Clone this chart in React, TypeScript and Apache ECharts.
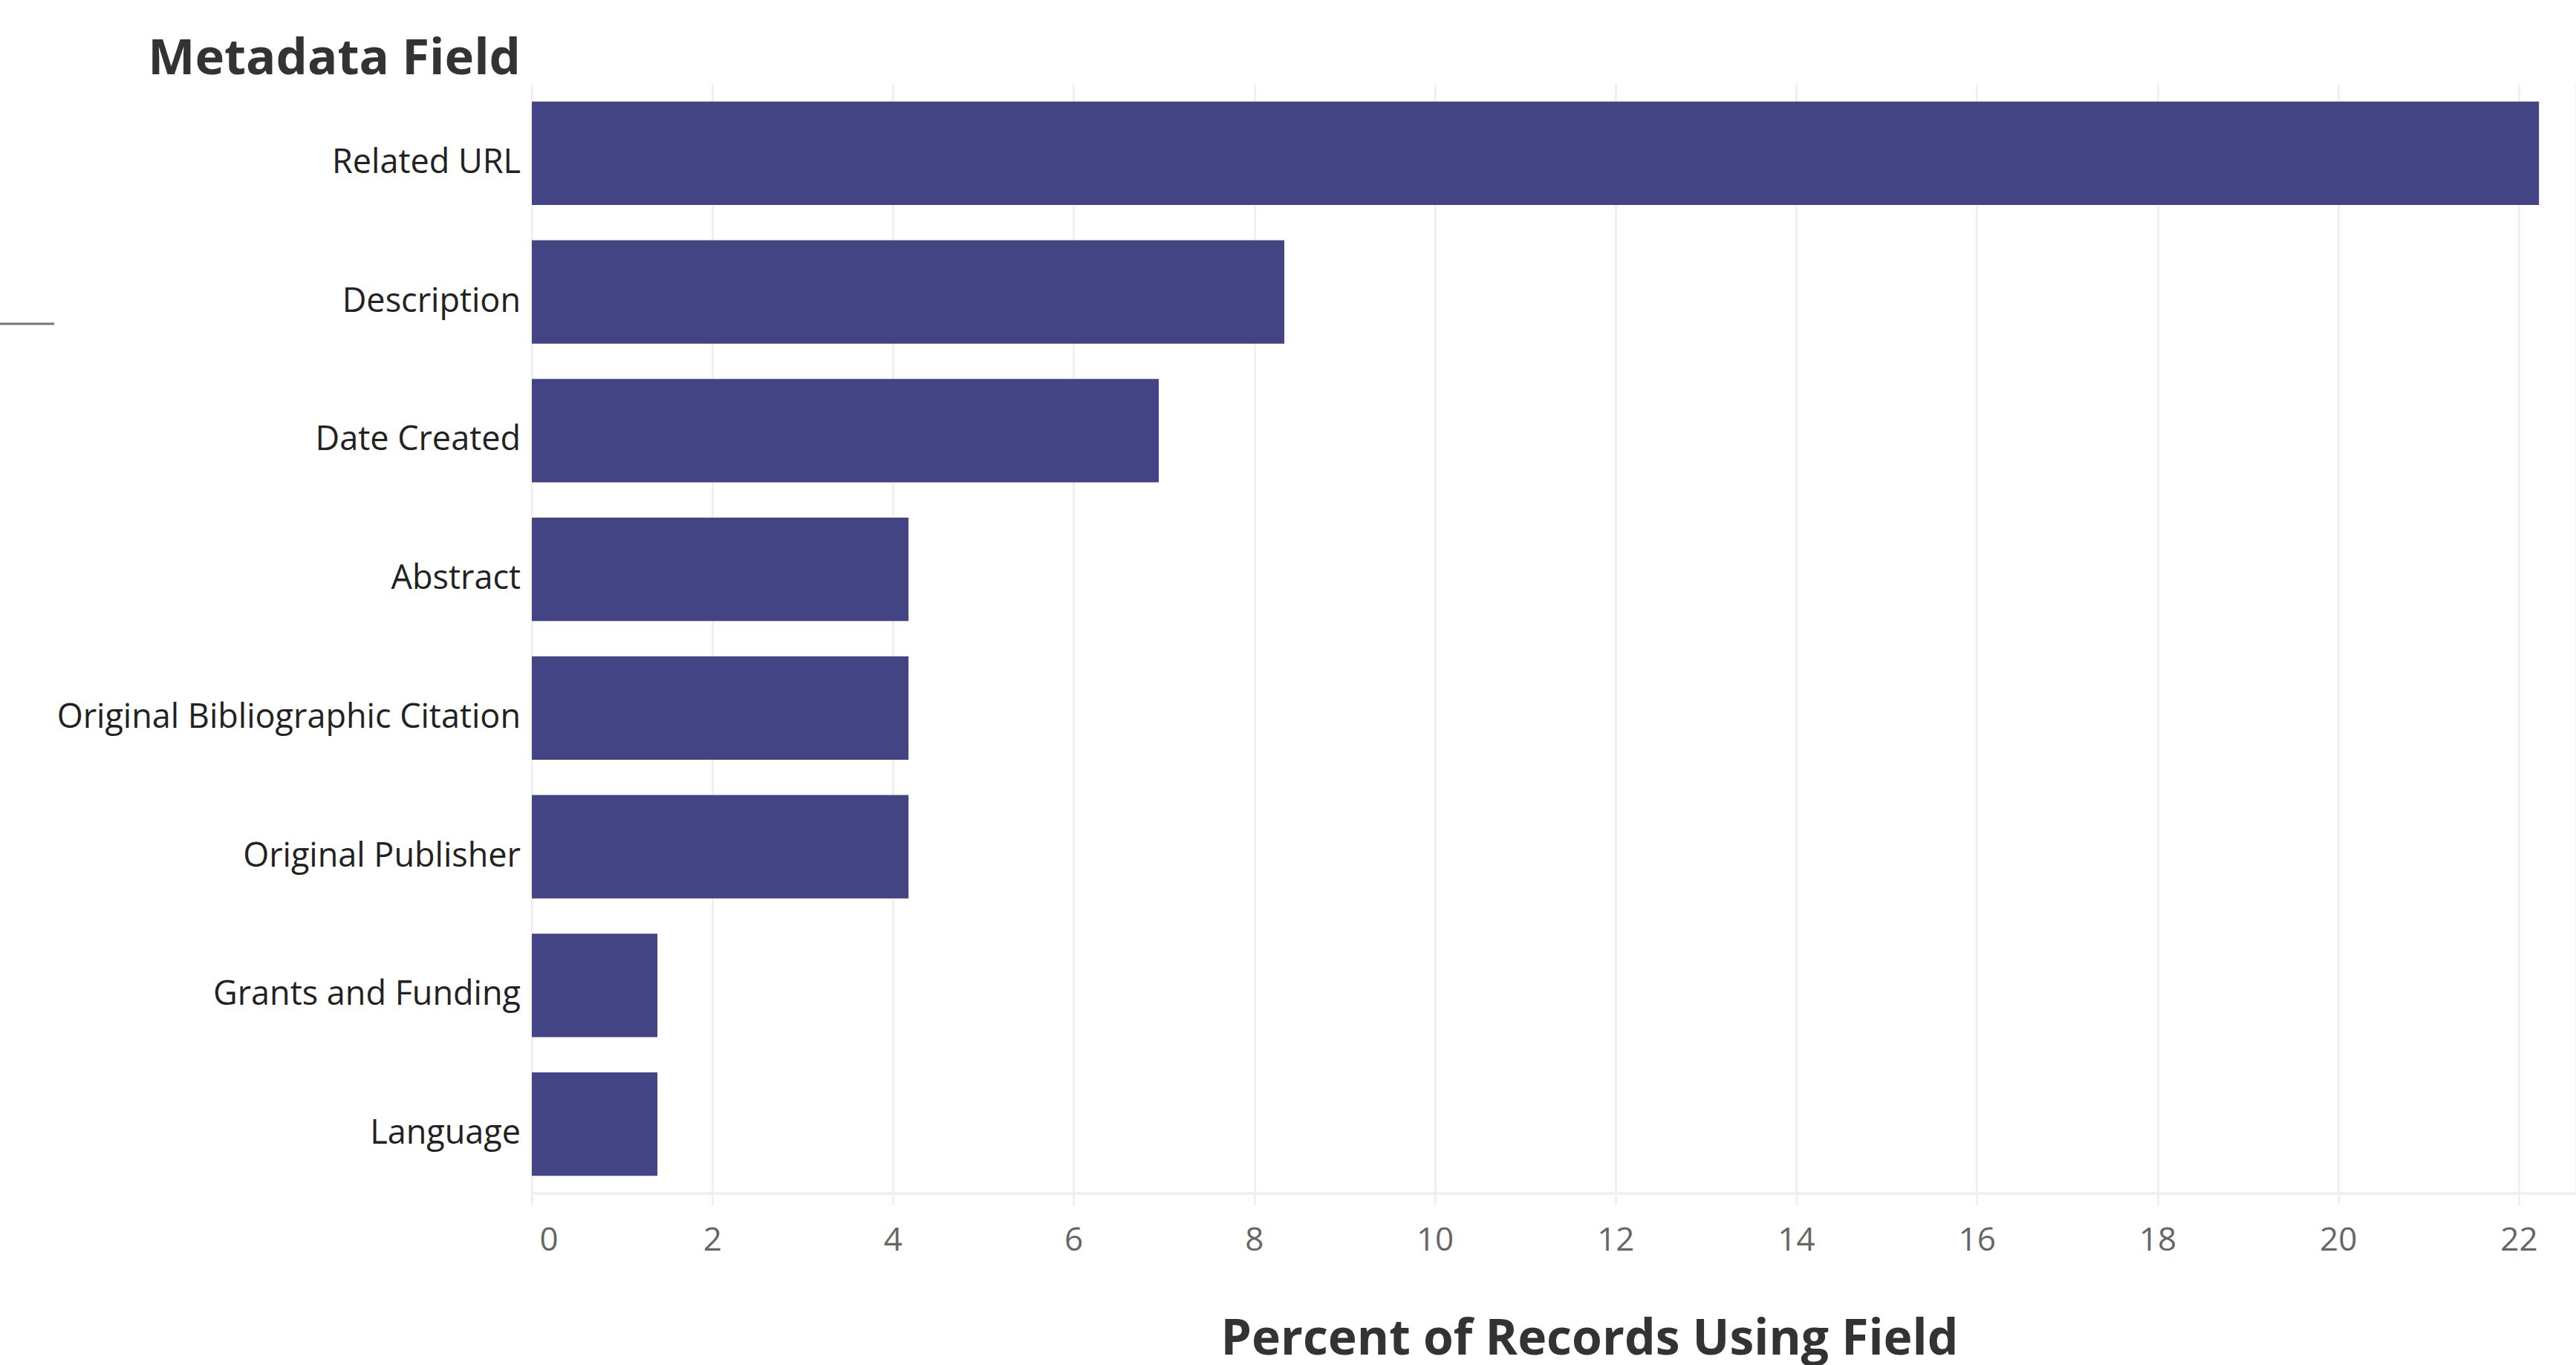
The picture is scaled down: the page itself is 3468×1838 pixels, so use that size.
import React, { useEffect, useRef } from "react";
import * as echarts from "echarts";

const categories = [
  "Related URL",
  "Description",
  "Date Created",
  "Abstract",
  "Original Bibliographic Citation",
  "Original Publisher",
  "Grants and Funding",
  "Language",
];
const percentValues = [22.22, 8.33, 6.94, 4.17, 4.17, 4.17, 1.39, 1.39];
const yTitle = "Metadata Field";
const xTitle = "Percent of Records Using Field";

const W = 3468;
const H = 1838;

export default function App() {
  const ref = useRef<HTMLDivElement>(null);
  useEffect(() => {
    if (!ref.current) return;
    const chart = echarts.init(ref.current, undefined, { renderer: "svg", width: W, height: H });
    const font = "'Open Sans', Lato, sans-serif";
    chart.setOption({
      animation: false,
      backgroundColor: "#ffffff",
      grid: { left: 716, right: 0, top: 113, bottom: H - 1607, containLabel: false },
      xAxis: {
        type: "value",
        min: 0,
        max: 22.63,
        interval: 2,
        axisLine: { show: true, lineStyle: { color: "#f0f0f0", width: 4 } },
        axisTick: { show: true, length: 16, lineStyle: { color: "#f0f0f0", width: 3 } },
        splitLine: { show: true, lineStyle: { color: "#f0f0f0", width: 3 } },
        axisLabel: {
          color: "#666666",
          fontFamily: font,
          fontSize: 44,
          margin: 38,
          showMaxLabel: false,
          formatter: (v: number) => {
            if (Math.abs(v - Math.round(v)) > 1e-6 || Math.round(v) % 2 !== 0) return "";
            if (v === 0) return "{z|0}";
            return String(Math.round(v));
          },
          rich: { z: { padding: [0, 0, 0, 46], fontSize: 44, color: "#666666", fontFamily: font } },
        },
      },
      yAxis: {
        type: "category",
        data: categories,
        inverse: true,
        axisLine: { show: false },
        axisTick: { show: false },
        splitLine: { show: false },
        axisLabel: {
          margin: 15,
          formatter: (v: string) => "{a|" + v + "}",
          rich: {
            a: { color: "#222222", fontFamily: font, fontSize: 45, padding: [18, 0, 0, 0] },
          },
        },
      },
      series: [
        {
          type: "bar",
          data: percentValues,
          barCategoryGap: "25.5%",
          itemStyle: { color: "#424483" },
        },
      ],
      graphic: [
        {
          type: "text",
          x: 701,
          y: 74,
          style: {
            text: yTitle,
            fontFamily: font,
            fontWeight: "bold",
            fontSize: 67,
            fill: "#333333",
            textAlign: "right",
            textVerticalAlign: "middle",
          },
        },
        {
          type: "text",
          x: 2140,
          y: 1798,
          style: {
            text: xTitle,
            fontFamily: font,
            fontWeight: "bold",
            fontSize: 66,
            fill: "#333333",
            textAlign: "center",
            textVerticalAlign: "middle",
          },
        },
        {
          type: "line",
          shape: { x1: 0, y1: 436, x2: 73, y2: 436 },
          style: { stroke: "#777777", lineWidth: 3 },
        },
      ],
    });
    return () => chart.dispose();
  }, []);
  return (
    <div
      ref={ref}
      style={{ position: "fixed", left: 0, top: 0, width: W, height: H, background: "#fff" }}
    />
  );
}
